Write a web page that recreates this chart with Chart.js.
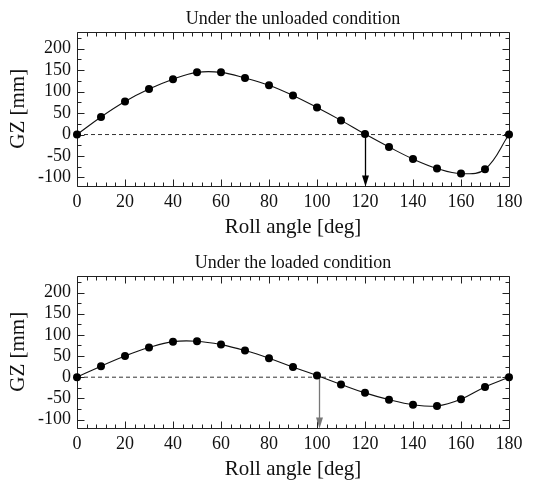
<!DOCTYPE html>
<html><head><meta charset="utf-8">
<script src="https://cdn.jsdelivr.net/npm/chart.js@4/dist/chart.umd.min.js"></script>
<style>
html,body{margin:0;padding:0;background:#fff;}
#wrap{position:relative;width:537px;height:484px;overflow:hidden;}
.cell{position:absolute;left:0;width:537px;height:242px;}
</style></head><body>
<div id="wrap">
<div class="cell" style="top:0"><canvas id="c1" width="537" height="242"></canvas></div>
<div class="cell" style="top:242px"><canvas id="c2" width="537" height="242"></canvas></div>
</div>
<script>
const rollAngles = [0,10,20,30,40,50,60,70,80,90,100,110,120,130,140,150,160,170,180];
const gzUnloaded = [0,41,77,106,129,145,145,132,115,91,63,33,1,-29,-57,-79,-91,-81,0];
const gzLoaded   = [0,26,50,70,84,85,77,63,45,24,4,-17,-37,-53,-65,-68,-52,-23,0];
const xTicks = [0,20,40,60,80,100,120,140,160,180];
const yTicks = [-100,-50,0,50,100,150,200];
const chartTitles = ['Under the unloaded condition','Under the loaded condition'];
const vanishingAngles = [120, 101];

const SERIF = "'Liberation Serif','Times New Roman',serif";
const TXT = '#111';

const framePlugin = {
  id: 'frame',
  beforeDatasetsDraw(chart, args, opts) {
    const {ctx, chartArea: a, scales: {x, y}} = chart;
    ctx.save();
    ctx.strokeStyle = opts.frameColor || '#222';
    ctx.lineWidth = 1;
    const L = Math.round(a.left) + 0.5, R = Math.round(a.right) + 0.5;
    const T = Math.round(a.top) + 0.5, B = Math.round(a.bottom) + 0.5;
    ctx.beginPath();
    ctx.rect(L, T, R - L, B - T);
    for (let v = x.min; v <= x.max + 1e-6; v += 4) {
      const px = Math.round(x.getPixelForValue(v)) + 0.5;
      const len = (v % 20 === 0) ? 7 : 4;
      ctx.moveTo(px, B); ctx.lineTo(px, B - len);
      ctx.moveTo(px, T); ctx.lineTo(px, T + len);
    }
    for (let v = Math.ceil(y.min / 25) * 25; v <= y.max + 1e-6; v += 25) {
      const py = Math.round(y.getPixelForValue(v)) + 0.5;
      const len = (v % 50 === 0) ? 7 : 4;
      ctx.moveTo(L, py); ctx.lineTo(L + len, py);
      ctx.moveTo(R, py); ctx.lineTo(R - len, py);
    }
    ctx.stroke();
    // arrow at vanishing angle
    const ax = Math.round(x.getPixelForValue(opts.at)) + 0.5;
    const y0 = y.getPixelForValue(0);
    ctx.strokeStyle = opts.arrowColor;
    ctx.fillStyle = opts.arrowColor;
    ctx.lineWidth = 1.3;
    ctx.beginPath();
    ctx.moveTo(ax, y0); ctx.lineTo(ax, B - 9);
    ctx.stroke();
    ctx.beginPath();
    ctx.moveTo(ax - 3.5, B - 11); ctx.lineTo(ax + 3.5, B - 11); ctx.lineTo(ax, B);
    ctx.closePath(); ctx.fill();
    ctx.restore();
  }
};

function makeChart(id, values, title, at, arrowColor, titlePad) {
  const pts = rollAngles.map((a, i) => ({x: a, y: values[i]}));
  return new Chart(document.getElementById(id), {
    type: 'line',
    data: {
      datasets: [
        {
          data: pts, borderColor: '#111', borderWidth: 1.1, tension: 0.4,
          pointRadius: 4, pointBackgroundColor: '#000', pointBorderColor: '#000',
          pointBorderWidth: 0, clip: false
        },
        {
          data: [{x: 0, y: 0}, {x: 180, y: 0}], borderColor: '#333', borderWidth: 1,
          borderDash: [4, 3], pointRadius: 0, tension: 0
        }
      ]
    },
    options: {
      responsive: false,
      animation: false,
      devicePixelRatio: 1,
      layout: {padding: {left: 0, right: 28, top: 0, bottom: 0}},
      plugins: {
        legend: {display: false},
        tooltip: {enabled: false},
        title: {
          display: true, text: title, fullSize: false, color: TXT,
          font: {family: SERIF, size: 18, weight: 'normal'},
          padding: titlePad
        },
        frame: {at: at, arrowColor: arrowColor}
      },
      scales: {
        x: {
          type: 'linear', min: 0, max: 180,
          afterBuildTicks: s => { s.ticks = xTicks.map(v => ({value: v})); },
          afterFit: s => { s.height = 56; },
          grid: {display: false, drawTicks: false},
          border: {display: false},
          ticks: {font: {family: SERIF, size: 18}, color: TXT, padding: 5, maxRotation: 0, autoSkip: false},
          title: {display: true, text: 'Roll angle [deg]', color: TXT,
                  font: {family: SERIF, size: 21}, padding: {top: 0, bottom: 2}}
        },
        y: {
          type: 'linear', min: -120, max: 240,
          afterBuildTicks: s => { s.ticks = yTicks.map(v => ({value: v})); },
          afterFit: s => { s.width = 77; },
          grid: {display: false, drawTicks: false},
          border: {display: false},
          ticks: {font: {family: SERIF, size: 18}, color: TXT, padding: 6, autoSkip: false},
          title: {display: true, text: 'GZ [mm]', color: TXT,
                  font: {family: SERIF, size: 21}, padding: {top: 6, bottom: 0}}
        }
      }
    },
    plugins: [framePlugin]
  });
}

makeChart('c1', gzUnloaded, chartTitles[0], vanishingAngles[0], '#000', {top: 8, bottom: 2});
makeChart('c2', gzLoaded, chartTitles[1], vanishingAngles[1], '#777', {top: 10, bottom: 2});
</script>
</body></html>
